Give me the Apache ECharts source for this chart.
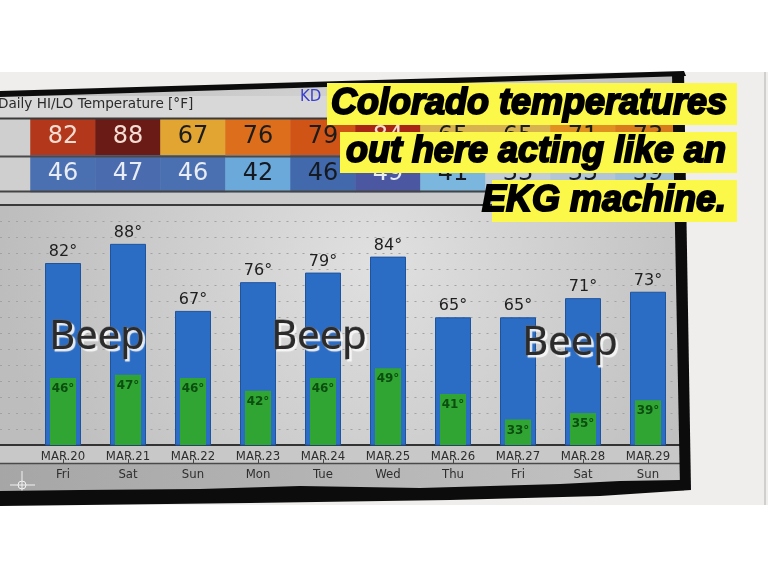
<!DOCTYPE html>
<html><head><meta charset="utf-8">
<script src="https://cdn.jsdelivr.net/npm/echarts@6/dist/echarts.min.js"></script>
<style>html,body{margin:0;padding:0;background:#fff}#c{width:768px;height:576px}</style>
</head><body><div id="c"></div>
<script>
const dates = ['MAR.20','MAR.21','MAR.22','MAR.23','MAR.24','MAR.25','MAR.26','MAR.27','MAR.28','MAR.29'];
const days = ['Fri','Sat','Sun','Mon','Tue','Wed','Thu','Fri','Sat','Sun'];
const hiTemps = [82,88,67,76,79,84,65,65,71,73];
const loTemps = [46,47,46,42,46,49,41,33,35,39];
const rowNames = ['HI','LO'];
const tableTitle = 'Daily HI/LO Temperature [°F]';
const captionLines = ['Colorado temperatures','out here acting like an','EKG machine.'];
const beepWord = 'Beep';

// styles (kept apart from the values)
const hiCellColors = ['#b3381b','#6b1b15','#e2a532','#dc6e1c','#cf5416','#a82414','#d8b24e','#d8b24e','#e0911f','#d87b1d'];
const loCellColors = ['#4a70b2','#4a6cae','#4a70b2','#6aa9d9','#4169ab','#4b57a1','#7bb6de','#c2cdd6','#b4c6d6','#9fbfd9'];
const hiLightText = [true,true,false,false,false,true,false,false,false,false];
const loLightText = [true,true,true,false,false,true,false,false,false,false];

const heatData = [];
hiTemps.forEach((v,i)=>heatData.push({value:[i,0,v],itemStyle:{color:hiCellColors[i]},label:{color:hiLightText[i]?'#f3ddd3':'#1c1c1c'}}));
loTemps.forEach((v,i)=>heatData.push({value:[i,1,v],itemStyle:{color:loCellColors[i]},label:{color:loLightText[i]?'#e8ecf4':'#151a22'}}));

const GL = 30.5, GR = 87.5;
const chart = echarts.init(document.getElementById('c'), null, {renderer:'canvas'});

const splitDots = {show:true,lineStyle:{color:'#a2a2a2',type:[2,6],width:1.2}};
const beepStyle = (txt)=>({text:txt,font:'40px "Noto Sans"',fill:'#2b2b2b',stroke:'#666',lineWidth:1,align:'center',verticalAlign:'middle',textShadowColor:'rgba(250,250,250,0.9)',textShadowOffsetX:2,textShadowOffsetY:2,textShadowBlur:1});
const capStyle = (txt)=>({text:txt,font:'italic bold 36px "Liberation Sans"',fill:'#000',stroke:'#000',lineWidth:2,align:'right',verticalAlign:'middle'});

const graphics = [
  {type:'rect',shape:{x:0,y:72,width:768,height:433},style:{fill:'#efeeec'},z:-20,silent:true},
  {type:'polygon',shape:{points:[[0,94],[680,74],[686,488],[0,492]]},
   style:{fill:new echarts.graphic.RadialGradient(0.55,0.45,0.9,[{offset:0,color:'#e0e0e0'},{offset:1,color:'#bdbdbd'}])},z:-19,silent:true},
  {type:'rect',shape:{x:0,y:96,width:678,height:22},style:{fill:'#d8d8d8'},z:-18,silent:true},
  {type:'rect',shape:{x:0,y:119,width:GL,height:72},style:{fill:'#cfcfcf'},z:-18,silent:true},
  {type:'rect',shape:{x:0,y:191,width:678,height:14},style:{fill:'#cbcbcb'},z:-18,silent:true},
  {type:'rect',shape:{x:0,y:445,width:682,height:18},style:{fill:'#c8c8c8'},z:-18,silent:true},
  {type:'rect',shape:{x:0,y:463,width:684,height:28},
   style:{fill:new echarts.graphic.LinearGradient(0,0,1,0,[{offset:0,color:'#a6a6a6'},{offset:1,color:'#c4c4c4'}])},z:-18,silent:true},
  {type:'line',shape:{x1:0,y1:118.5,x2:678,y2:118.5},style:{stroke:'#3a3a3a',lineWidth:2},z:50,silent:true},
  {type:'line',shape:{x1:0,y1:156.5,x2:678,y2:156.5},style:{stroke:'#4a4a4a',lineWidth:2},z:50,silent:true},
  {type:'line',shape:{x1:0,y1:191.5,x2:678,y2:191.5},style:{stroke:'#444',lineWidth:2},z:50,silent:true},
  {type:'line',shape:{x1:0,y1:205,x2:678,y2:205},style:{stroke:'#3a3a3a',lineWidth:2},z:50,silent:true},
  {type:'line',shape:{x1:0,y1:463.5,x2:682,y2:463.5},style:{stroke:'#4a4a4a',lineWidth:1.5},z:50,silent:true},
  {type:'text',x:-2,y:104,style:{text:tableTitle,font:'13.6px "DejaVu Sans"',fill:'#2a2a2a',verticalAlign:'middle'},z:50,silent:true},
  {type:'text',x:300,y:97,style:{text:'KD',font:'15px "DejaVu Sans"',fill:'#3b3fd0',verticalAlign:'middle'},z:50,silent:true},
  {type:'line',shape:{x1:10,y1:485,x2:35,y2:485},style:{stroke:'#f2f2f2',lineWidth:1},z:50,silent:true},
  {type:'line',shape:{x1:22,y1:471,x2:22,y2:499},style:{stroke:'#f2f2f2',lineWidth:1},z:50,silent:true},
  {type:'circle',shape:{cx:22,cy:485,r:4},style:{fill:'none',stroke:'#f2f2f2',lineWidth:1},z:50,silent:true},
  {type:'polygon',shape:{points:[[0,91],[684,71],[686,76],[0,97]]},style:{fill:'#0c0c0c'},z:95,silent:true},
  {type:'polygon',shape:{points:[[672,74],[684,71],[691,490],[680,488]]},style:{fill:'#0c0c0c'},z:95,silent:true},
  {type:'polygon',shape:{points:[[0,491],[80,490],[200,489],[300,486],[420,488],[560,484],[620,481],[680,480],[691,490],[600,496],[450,500],[250,503],[0,506]]},style:{fill:'#0c0c0c'},z:95,silent:true},
  {type:'line',shape:{x1:765,y1:72,x2:765,y2:505},style:{stroke:'#c4c4c4',lineWidth:1.5},z:95,silent:true},
  {type:'text',x:97,y:338,style:beepStyle(beepWord),z:90,silent:true},
  {type:'text',x:319,y:338,style:beepStyle(beepWord),z:90,silent:true},
  {type:'text',x:570,y:344,style:beepStyle(beepWord),z:90,silent:true},
  {type:'rect',shape:{x:327,y:83,width:410,height:42},style:{fill:'#fbf84a'},z:100,silent:true},
  {type:'rect',shape:{x:340,y:132,width:397,height:41},style:{fill:'#fbf84a'},z:100,silent:true},
  {type:'rect',shape:{x:492,y:180,width:245,height:42},style:{fill:'#fbf84a'},z:100,silent:true},
  {type:'text',x:727,y:104,style:capStyle(captionLines[0]),z:101,silent:true},
  {type:'text',x:726,y:152,style:capStyle(captionLines[1]),z:101,silent:true},
  {type:'text',x:726,y:201,style:capStyle(captionLines[2]),z:101,silent:true}
];

const option = {
  animation:false,
  backgroundColor:'#ffffff',
  grid:[
    {left:GL,right:GR,top:221.5,bottom:131},
    {left:0,width:GL,top:221.5,bottom:131},
    {left:GL,right:GR,top:119,height:73}
  ],
  xAxis:[
    {type:'category',gridIndex:0,data:dates,
     axisLine:{show:true,lineStyle:{color:'#333',width:2}},axisTick:{show:false},
     axisLabel:{margin:3,interval:0,formatter:(v,i)=>'{a|'+v+'}\n{b|'+days[i]+'}',
       rich:{a:{fontFamily:'"Liberation Sans Narrow","DejaVu Sans Condensed"',fontSize:13,color:'#2e2e2e',lineHeight:18},
             b:{fontFamily:'"Liberation Sans Narrow","DejaVu Sans Condensed"',fontSize:13,color:'#2e2e2e',lineHeight:18}}},
     splitLine:{show:false}},
    {type:'category',gridIndex:0,data:dates,show:false},
    {type:'category',gridIndex:0,data:dates,position:'bottom',offset:18,
     axisLine:{show:false},axisLabel:{show:false},axisTick:{show:true,alignWithLabel:true,inside:true,length:4,lineStyle:{color:'#444'}}},
    {type:'category',gridIndex:1,data:[''],axisLine:{show:true,lineStyle:{color:'#333',width:2}},axisTick:{show:false},axisLabel:{show:false}},
    {type:'category',gridIndex:2,data:dates,show:false}
  ],
  yAxis:[
    {type:'value',gridIndex:0,min:25,max:95,interval:5,axisLine:{show:false},axisTick:{show:false},axisLabel:{show:false},splitLine:splitDots},
    {type:'value',gridIndex:1,min:25,max:95,interval:5,axisLine:{show:false},axisTick:{show:false},axisLabel:{show:false},splitLine:splitDots},
    {type:'category',gridIndex:2,data:rowNames,inverse:true,show:false}
  ],
  series:[
    {type:'bar',name:'HI',xAxisIndex:0,yAxisIndex:0,data:hiTemps,barWidth:36,z:3,
     itemStyle:{color:'#2b6cc5',borderColor:'#1f539e',borderWidth:1},
     label:{show:true,position:'top',distance:3,formatter:'{c}°',fontFamily:'"DejaVu Sans"',fontSize:16,color:'#1e1e1e'}},
    {type:'bar',name:'LO',xAxisIndex:1,yAxisIndex:0,data:loTemps,barWidth:26,z:4,
     itemStyle:{color:'#30a533'},
     label:{show:true,position:'insideTop',distance:5,formatter:'{c}°',fontFamily:'"DejaVu Sans"',fontWeight:'bold',fontSize:12,color:'#0c4d10'}},
    {type:'heatmap',xAxisIndex:4,yAxisIndex:2,data:heatData,z:3,
     label:{show:true,fontFamily:'"DejaVu Sans"',fontSize:24,formatter:p=>String(p.value[2])}}
  ],
  graphic:{elements:graphics}
};
chart.setOption(option);
</script>
</body></html>
